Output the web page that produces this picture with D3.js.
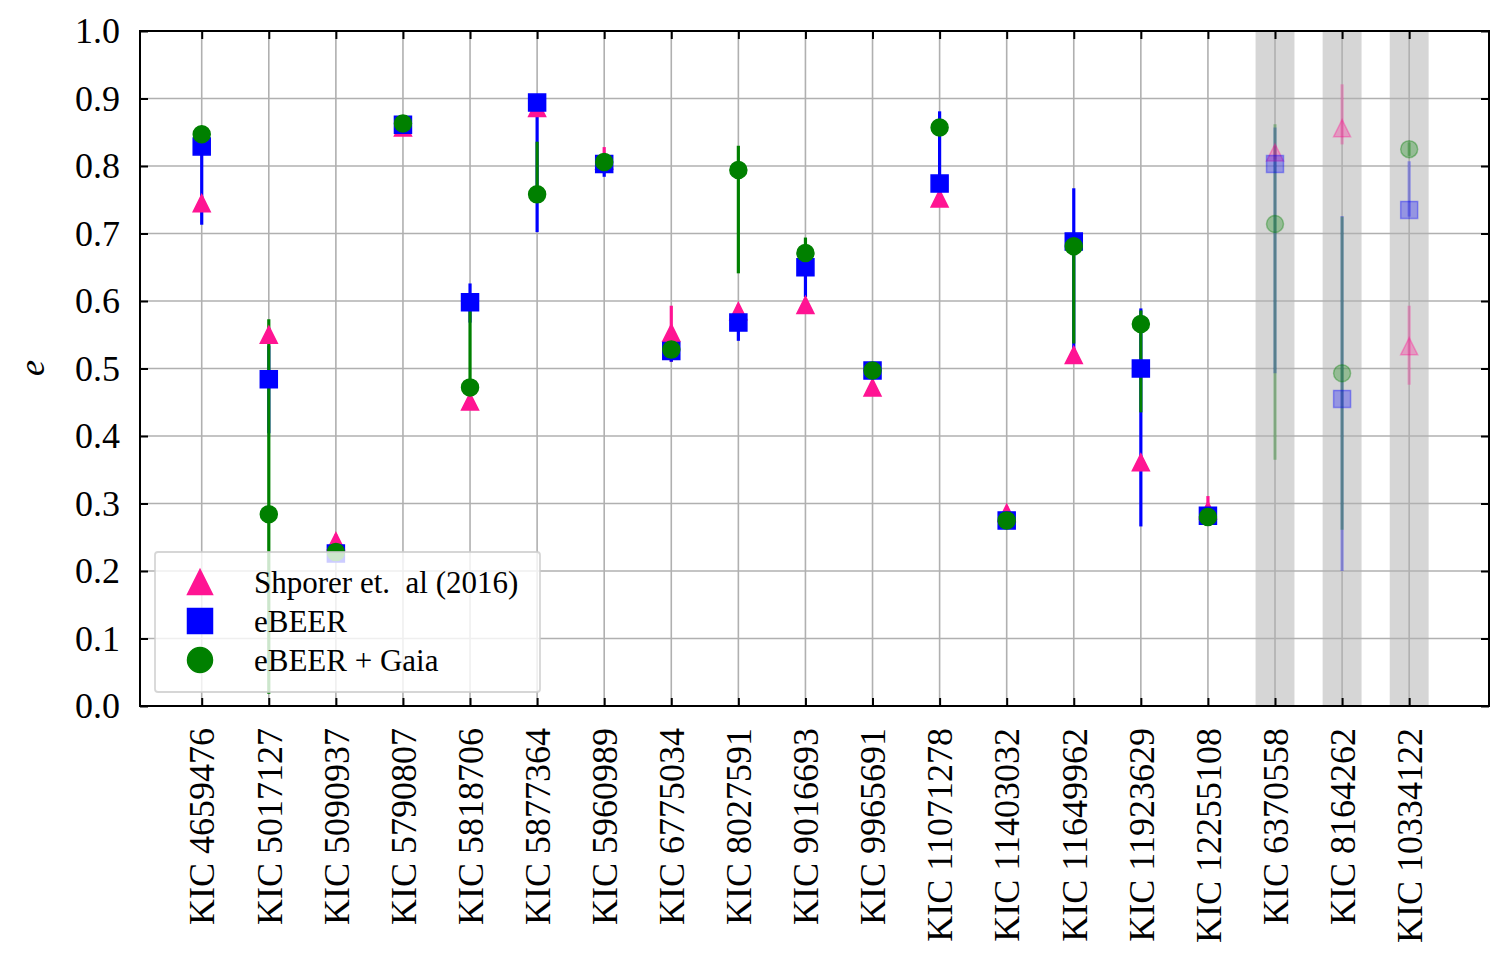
<!DOCTYPE html>
<html>
<head>
<meta charset="utf-8">
<script src="https://cdn.jsdelivr.net/npm/d3@7"></script>
<style>
  body { margin: 0; background: #fff; }
  svg { display: block; }
  text { font-family: "Liberation Serif", "DejaVu Serif", serif; }
</style>
</head>
<body>
<svg id="chart" width="1508" height="968"></svg>
<script>
// KIC targets, left to right
const stars = ['4659476', '5017127', '5090937', '5790807', '5818706', '5877364', '5960989',
  '6775034', '8027591', '9016693', '9965691', '11071278', '11403032', '11649962',
  '11923629', '12255108', '6370558', '8164262', '10334122'];

// Shporer et. al (2016)
const shporer   = [0.745, 0.550, 0.244, 0.857, 0.451, 0.886, 0.808, 0.553, 0.585, 0.594,
  0.472, 0.752, 0.286, 0.520, 0.361, 0.290, 0.820, 0.856, 0.533];
const shporerLo = [0.01, 0.01, 0.01, 0.01, 0.01, 0.01, 0.01, 0.043, 0.01, 0.01,
  0.01, 0.01, 0.01, 0.01, 0.01, 0.01, 0.01, 0.024, 0.057];
const shporerHi = [0.01, 0.01, 0.01, 0.01, 0.01, 0.01, 0.02, 0.040, 0.01, 0.01,
  0.01, 0.01, 0.01, 0.01, 0.01, 0.021, 0.01, 0.065, 0.060];

// eBEER
const ebeer   = [0.829, 0.484, 0.226, 0.861, 0.598, 0.894, 0.803, 0.526, 0.568, 0.650,
  0.497, 0.774, 0.275, 0.688, 0.500, 0.282, 0.803, 0.455, 0.735];
const ebeerLo = [0.116, 0.08, 0.01, 0.01, 0.03, 0.192, 0.019, 0.016, 0.027, 0.044,
  0.01, 0.02, 0.01, 0.16, 0.234, 0.01, 0.31, 0.255, 0.01];
const ebeerHi = [0.015, 0.05, 0.01, 0.01, 0.028, 0.0, 0.01, 0.01, 0.01, 0.01,
  0.01, 0.107, 0.01, 0.079, 0.089, 0.01, 0.054, 0.271, 0.072];

// eBEER + Gaia
const gaia   = [0.847, 0.284, 0.228, 0.863, 0.472, 0.758, 0.806, 0.528, 0.794, 0.671,
  0.497, 0.857, 0.275, 0.681, 0.566, 0.280, 0.714, 0.493, 0.825];
const gaiaLo = [0.01, 0.266, 0.01, 0.01, 0.01, 0.01, 0.01, 0.01, 0.153, 0.01,
  0.01, 0.01, 0.01, 0.144, 0.131, 0.01, 0.349, 0.232, 0.01];
const gaiaHi = [0.01, 0.289, 0.01, 0.01, 0.12, 0.078, 0.01, 0.01, 0.036, 0.023,
  0.01, 0.01, 0.01, 0.01, 0.02, 0.01, 0.148, 0.232, 0.01];

// targets shown faded on a grey band
const faded = [16, 17, 18];

const yTicks = [0, 0.1, 0.2, 0.3, 0.4, 0.5, 0.6, 0.7, 0.8, 0.9, 1.0];

const series = [
  { label: 'Shporer et. al (2016)', values: shporer, lo: shporerLo, hi: shporerHi, color: '#ff1493', shape: 'triangle' },
  { label: 'eBEER', values: ebeer, lo: ebeerLo, hi: ebeerHi, color: '#0000ff', shape: 'square' },
  { label: 'eBEER + Gaia', values: gaia, lo: gaiaLo, hi: gaiaHi, color: '#008000', shape: 'circle' }
];

const margin = { left: 140, right: 1489, top: 31, bottom: 706 };
const svg = d3.select('#chart');

const x = d3.scaleLinear().domain([-0.92, 19.19]).range([margin.left, margin.right]);
const y = d3.scaleLinear().domain([0, 1]).range([margin.bottom, margin.top]);
const idx = d3.range(stars.length);

// marker shapes, centred on the bounding box like matplotlib
function markerPath(shape, s) {
  const h = s / 2;
  if (shape === 'triangle') return `M0,${-h}L${-h},${h}L${h},${h}Z`;
  if (shape === 'square') return `M${-h},${-h}H${h}V${h}H${-h}Z`;
  return d3.arc()({ innerRadius: 0, outerRadius: h, startAngle: 0, endAngle: 2 * Math.PI });
}

// grey bands
svg.append('g').selectAll('rect')
  .data(faded)
  .join('rect')
  .attr('x', d => x(d - 0.29))
  .attr('y', margin.top)
  .attr('width', d => x(d + 0.29) - x(d - 0.29))
  .attr('height', margin.bottom - margin.top)
  .attr('fill', '#d6d6d6');

// grid
const grid = svg.append('g').attr('stroke', '#b0b0b0').attr('stroke-width', 1.6);
grid.selectAll('line.v')
  .data(idx)
  .join('line')
  .attr('class', 'v')
  .attr('x1', d => x(d)).attr('x2', d => x(d))
  .attr('y1', margin.top).attr('y2', margin.bottom);
grid.selectAll('line.h')
  .data(yTicks.slice(1, -1))
  .join('line')
  .attr('class', 'h')
  .attr('x1', margin.left).attr('x2', margin.right)
  .attr('y1', d => y(d)).attr('y2', d => y(d));

// error bars (all series first, markers sit above them)
const bars = svg.append('g');
series.forEach(s => {
  bars.append('g')
    .selectAll('line')
    .data(idx)
    .join('line')
    .attr('x1', i => x(i)).attr('x2', i => x(i))
    .attr('y1', i => y(s.values[i] - s.lo[i]))
    .attr('y2', i => y(s.values[i] + s.hi[i]))
    .attr('stroke', s.color)
    .attr('stroke-width', 3.2)
    .attr('opacity', i => faded.includes(i) ? 0.3 : 1);
});

// markers
const marks = svg.append('g');
series.forEach(s => {
  marks.append('g')
    .selectAll('path')
    .data(idx)
    .join('path')
    .attr('transform', i => `translate(${x(i)},${y(s.values[i])})`)
    .attr('d', markerPath(s.shape, 17))
    .attr('fill', s.color)
    .attr('stroke', s.color)
    .attr('stroke-width', 1.5)
    .attr('fill-opacity', i => faded.includes(i) ? 0.3 : 1)
    .attr('stroke-opacity', i => faded.includes(i) ? 0.35 : 1);
});

// axes, ticks point inward on all four sides
const axisStyle = g => {
  g.select('.domain').remove();
  g.selectAll('.tick line').attr('stroke', '#000').attr('stroke-width', 2);
  g.selectAll('text').attr('fill', '#000').style('font-size', '36px');
};

svg.append('g')
  .attr('transform', `translate(${margin.left},0)`)
  .call(d3.axisLeft(y).tickValues(yTicks).tickSize(-8).tickPadding(20).tickFormat(d3.format('.1f')))
  .call(axisStyle);

svg.append('g')
  .attr('transform', `translate(${margin.right},0)`)
  .call(d3.axisRight(y).tickValues(yTicks).tickSize(-8).tickFormat(''))
  .call(axisStyle);

svg.append('g')
  .attr('transform', `translate(0,${margin.top})`)
  .call(d3.axisTop(x).tickValues(idx).tickSize(-8).tickFormat(''))
  .call(axisStyle);

const xAxis = svg.append('g')
  .attr('transform', `translate(0,${margin.bottom})`)
  .call(d3.axisBottom(x).tickValues(idx).tickSize(-8).tickFormat(i => 'KIC ' + stars[i]))
  .call(axisStyle);
xAxis.selectAll('text')
  .attr('transform', 'rotate(-90)')
  .attr('text-anchor', 'end')
  .attr('x', -22)
  .attr('y', 0)
  .attr('dy', '0.34em');

// frame
svg.append('rect')
  .attr('x', margin.left).attr('y', margin.top)
  .attr('width', margin.right - margin.left)
  .attr('height', margin.bottom - margin.top)
  .attr('fill', 'none')
  .attr('stroke', '#000')
  .attr('stroke-width', 2);

// y label
svg.append('text')
  .attr('transform', 'translate(44,368) rotate(-90)')
  .attr('text-anchor', 'middle')
  .style('font-size', '36px')
  .style('font-style', 'italic')
  .text('e');

// legend
const legend = svg.append('g');
legend.append('rect')
  .attr('x', 155).attr('y', 552)
  .attr('width', 385).attr('height', 140)
  .attr('rx', 3)
  .attr('fill', '#fff').attr('fill-opacity', 0.8)
  .attr('stroke', '#cccccc').attr('stroke-opacity', 0.8)
  .attr('stroke-width', 1.8);
const rows = legend.selectAll('g.row')
  .data(series)
  .join('g')
  .attr('class', 'row')
  .attr('transform', (d, i) => `translate(200,${582 + i * 39})`);
rows.append('path')
  .attr('d', d => markerPath(d.shape, 25))
  .attr('fill', d => d.color)
  .attr('stroke', d => d.color)
  .attr('stroke-width', 1.5);
rows.append('text')
  .attr('x', 54)
  .attr('dy', '0.34em')
  .style('font-size', '31px')
  .attr('fill', '#000')
  .attr('xml:space', 'preserve')
  .text(d => d.label.replace('et. al', 'et.\u00a0 al'));
</script>
</body>
</html>
